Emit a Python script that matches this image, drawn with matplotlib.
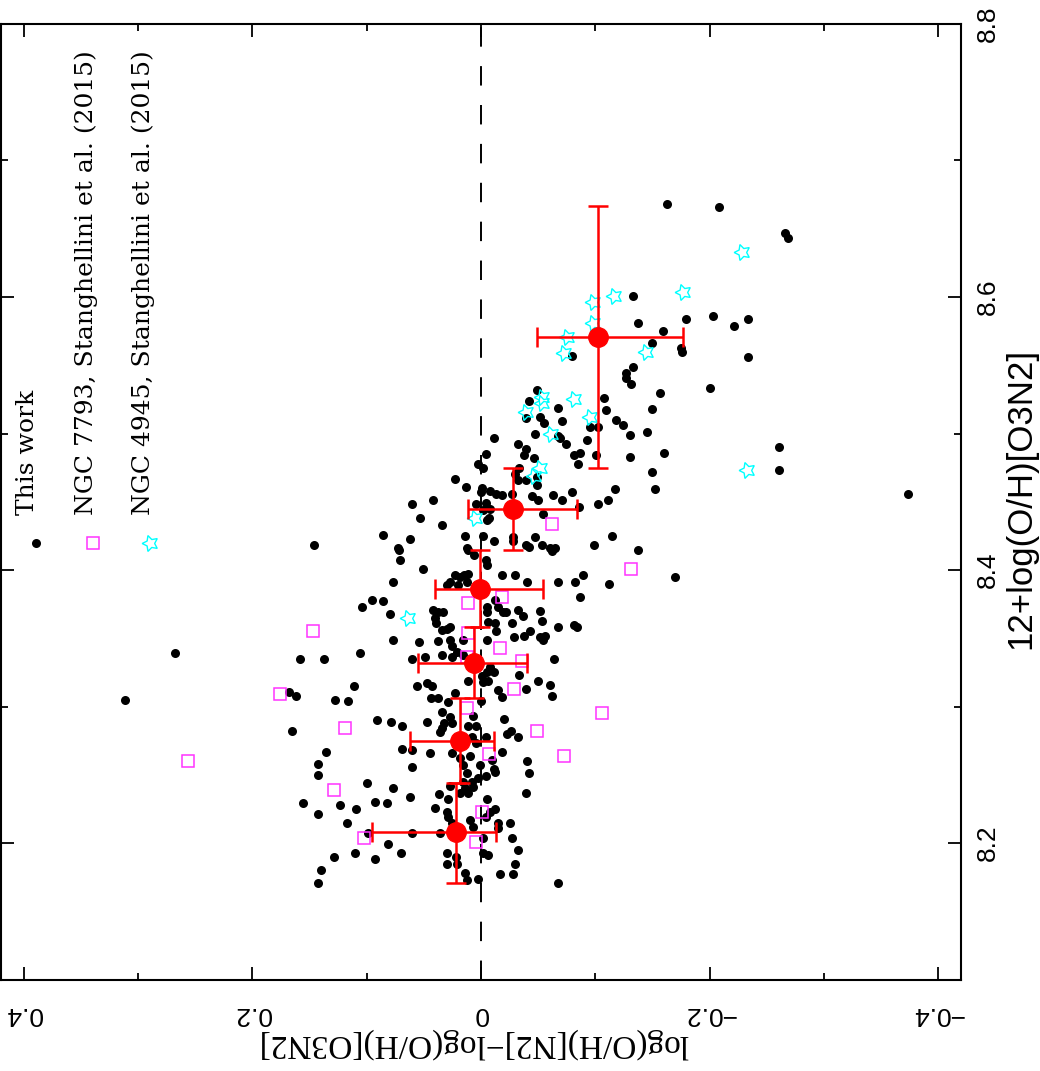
import matplotlib
matplotlib.use('Agg')
import matplotlib.pyplot as plt
import numpy as np

# This work: log(O/H)[N2]-log(O/H)[O3N2] vs 12+log(O/H)[O3N2]
dx_this = [-0.163, -0.208, -0.266, -0.269, -0.133, -0.137, -0.179, -0.203, -0.221, -0.234,
           -0.159, -0.150, -0.175, -0.176, -0.234, -0.080, -0.133, -0.127, -0.127, -0.131,
           -0.200, -0.157, -0.049,
           -0.042, -0.108, -0.067, -0.109, -0.150, -0.039, -0.052, -0.055, -0.071, -0.095,
           -0.102, -0.118, -0.124, -0.130, -0.145, -0.047, -0.067, -0.069, -0.011, -0.032,
           -0.074, -0.093, -0.261,
           -0.039, -0.038, -0.004, -0.081, -0.087, -0.085, -0.101, -0.130, -0.160, -0.046,
           0.003, -0.002, -0.033, -0.030, -0.032, -0.039, -0.049, 0.023, 0.013, -0.049,
           -0.150, -0.152, -0.117, -0.080, -0.063, -0.045, -0.050, -0.027, -0.008, -0.013,
           -0.018, 0.000, -0.001, -0.261, -0.374,
           -0.111, -0.102, -0.071, -0.004, 0.004, -0.008, -0.007, -0.005, 0.060, 0.042,
           0.053, 0.034, 0.086, 0.062, 0.073, 0.014, -0.002, -0.011, -0.028, -0.028,
           -0.047, -0.039, -0.042, -0.053, -0.060, -0.065, -0.054, -0.086, -0.099, -0.115,
           -0.137, 0.012, 0.011, 0.146, -0.002,
           -0.062, 0.072, 0.071, 0.006, -0.004, -0.005, 0.051, 0.077, 0.023, 0.018,
           0.015, 0.011, 0.027, 0.030, 0.020, 0.012, -0.018, -0.030, -0.040, -0.067,
           -0.089, -0.082, -0.112, -0.170, -0.087,
           0.095, 0.104, 0.086, 0.080, -0.012, -0.015, -0.019, -0.022, -0.005, -0.032,
           -0.037, -0.052, 0.042, 0.038, 0.033, 0.040, 0.039, 0.034, 0.030, 0.027,
           -0.005, -0.006, -0.012, -0.027, -0.053, -0.067, -0.081, -0.084, -0.013, -0.029,
           -0.038, -0.043, -0.052, -0.056, -0.054, 0.077, 0.054, 0.038, 0.027, 0.025,
           0.016, -0.005,
           0.021, 0.016, 0.060, 0.049, 0.034, 0.025, -0.008, -0.011, -0.005, -0.001,
           -0.002, -0.006, 0.011, -0.033, -0.050, -0.060, -0.062, -0.064, -0.015, -0.039,
           -0.018, 0.056, 0.047, 0.043, 0.044, 0.038, 0.023, 0.268, 0.158, 0.137,
           0.106, 0.111, 0.168, 0.162, 0.128, 0.116, 0.312,
           0.029, 0.000, 0.034, 0.027, 0.025, 0.032, 0.034, 0.036, 0.091, 0.079,
           0.069, 0.047, 0.011, 0.004, 0.007, -0.020, -0.023, -0.026, -0.032, 0.008,
           -0.004, 0.069, 0.060, 0.165, 0.004,
           0.045, 0.025, 0.010, -0.018, -0.010, -0.012, 0.018, 0.016, 0.001, -0.011,
           -0.040, -0.042, 0.060, 0.012, -0.004, 0.003, 0.008, 0.016, 0.018, 0.011,
           0.014, 0.027, 0.007, -0.039, 0.077, 0.062, 0.037, 0.029, -0.005, 0.136,
           0.143, 0.143, 0.100,
           0.093, 0.082, 0.040, 0.030, 0.029, 0.025, -0.008, -0.012, -0.004, 0.010,
           0.007, -0.015, -0.015, -0.025, -0.027, -0.002, 0.036, 0.060, 0.081, 0.156,
           0.123, 0.109, 0.143, 0.117, 0.099,
           0.070, 0.093, 0.030, 0.022, 0.021, 0.030, -0.002, -0.006, -0.032, -0.030,
           -0.017, -0.028, 0.014, 0.012, 0.003, -0.067, 0.129, 0.110, 0.140, 0.143]
oh_this = [8.668, 8.666, 8.647, 8.643, 8.601, 8.581, 8.584, 8.586, 8.579, 8.584,
           8.575, 8.566, 8.563, 8.560, 8.556, 8.557, 8.549, 8.544, 8.541, 8.536,
           8.533, 8.530, 8.532,
           8.524, 8.526, 8.519, 8.517, 8.518, 8.511, 8.512, 8.508, 8.509, 8.505,
           8.505, 8.510, 8.506, 8.499, 8.501, 8.500, 8.498, 8.497, 8.497, 8.492,
           8.492, 8.495, 8.490,
           8.489, 8.484, 8.485, 8.484, 8.486, 8.478, 8.484, 8.483, 8.486, 8.482,
           8.478, 8.475, 8.475, 8.470, 8.466, 8.466, 8.468, 8.467, 8.461, 8.462,
           8.472, 8.459, 8.459, 8.457, 8.455, 8.454, 8.451, 8.456, 8.458, 8.456,
           8.455, 8.457, 8.460, 8.473, 8.456,
           8.451, 8.448, 8.451, 8.449, 8.448, 8.445, 8.438, 8.437, 8.448, 8.451,
           8.438, 8.433, 8.426, 8.423, 8.416, 8.425, 8.425, 8.421, 8.424, 8.421,
           8.424, 8.418, 8.417, 8.418, 8.416, 8.416, 8.441, 8.446, 8.418, 8.425,
           8.415, 8.416, 8.415, 8.418, 8.444,
           8.414, 8.415, 8.407, 8.411, 8.407, 8.404, 8.401, 8.391, 8.396, 8.395,
           8.396, 8.397, 8.391, 8.389, 8.389, 8.391, 8.396, 8.396, 8.391, 8.391,
           8.396, 8.391, 8.390, 8.395, 8.380,
           8.378, 8.373, 8.377, 8.368, 8.378, 8.373, 8.369, 8.369, 8.373, 8.371,
           8.366, 8.370, 8.371, 8.369, 8.369, 8.365, 8.361, 8.356, 8.357, 8.358,
           8.369, 8.362, 8.361, 8.361, 8.363, 8.358, 8.360, 8.358, 8.355, 8.351,
           8.352, 8.355, 8.351, 8.352, 8.349, 8.349, 8.347, 8.348, 8.349, 8.344,
           8.349, 8.349,
           8.340, 8.338, 8.335, 8.336, 8.338, 8.336, 8.329, 8.325, 8.325, 8.322,
           8.318, 8.319, 8.319, 8.323, 8.319, 8.316, 8.308, 8.335, 8.312, 8.313,
           8.307, 8.315, 8.317, 8.315, 8.306, 8.306, 8.310, 8.339, 8.335, 8.335,
           8.339, 8.315, 8.311, 8.308, 8.305, 8.304, 8.305,
           8.303, 8.304, 8.296, 8.292, 8.288, 8.288, 8.284, 8.281, 8.290, 8.289,
           8.286, 8.289, 8.286, 8.286, 8.293, 8.291, 8.280, 8.282, 8.278, 8.278,
           8.278, 8.269, 8.268, 8.282, 8.273,
           8.266, 8.266, 8.264, 8.267, 8.261, 8.252, 8.262, 8.257, 8.257, 8.254,
           8.260, 8.251, 8.256, 8.251, 8.249, 8.248, 8.245, 8.245, 8.237, 8.237,
           8.240, 8.242, 8.241, 8.237, 8.240, 8.234, 8.236, 8.232, 8.232, 8.267,
           8.258, 8.250, 8.244,
           8.230, 8.229, 8.226, 8.223, 8.219, 8.215, 8.223, 8.225, 8.219, 8.217,
           8.212, 8.215, 8.211, 8.215, 8.204, 8.204, 8.207, 8.207, 8.199, 8.229,
           8.228, 8.225, 8.221, 8.215, 8.207,
           8.193, 8.188, 8.193, 8.190, 8.185, 8.185, 8.193, 8.191, 8.195, 8.185,
           8.177, 8.177, 8.178, 8.173, 8.174, 8.171, 8.190, 8.193, 8.180, 8.171]

# NGC 7793, Stanghellini et al. (2015)
dx_7793 = [0.256, 0.176, 0.147, 0.119, 0.129, 0.102, -0.062, -0.018, 0.011, 0.011,
           -0.017, -0.036, 0.012, -0.029, 0.012, -0.049, -0.073, -0.007, -0.001, 0.004,
           -0.131, -0.106]
oh_7793 = [8.260, 8.309, 8.355, 8.284, 8.239, 8.204, 8.434, 8.380, 8.376, 8.354,
           8.343, 8.333, 8.336, 8.313, 8.299, 8.282, 8.264, 8.265, 8.223, 8.201,
           8.401, 8.295]

# NGC 4945, Stanghellini et al. (2015)
dx_4945 = [-0.228, -0.177, -0.116, -0.098, -0.098, -0.075, -0.073, -0.144, -0.053, -0.053,
           -0.039, -0.081, -0.095, -0.061, -0.052, -0.046, -0.233, 0.005, 0.064]
oh_4945 = [8.633, 8.604, 8.601, 8.596, 8.581, 8.571, 8.559, 8.560, 8.527, 8.522,
           8.516, 8.525, 8.512, 8.500, 8.475, 8.469, 8.473, 8.438, 8.365]

# binned medians
bin_oh = [8.208, 8.275, 8.332, 8.386, 8.445, 8.571]
bin_oh_lo = [8.171, 8.244, 8.306, 8.358, 8.415, 8.475]
bin_oh_hi = [8.244, 8.306, 8.358, 8.415, 8.475, 8.667]
bin_dx = [0.022, 0.018, 0.006, 0.001, -0.028, -0.102]
bin_dx_lo = [-0.013, -0.011, -0.040, -0.054, -0.084, -0.177]
bin_dx_hi = [0.095, 0.062, 0.055, 0.040, 0.011, -0.049]

fig = plt.figure(figsize=(10.4, 10.71), dpi=100)
ax = fig.add_axes([0.00106, 0.0854, 0.9229, 0.8922])

ax.axvline(0, color='black', lw=1.4, ls=(0, (10, 10)), zorder=1)

ax.plot(dx_this, oh_this, 'o', color='black', ms=6.5, mew=0, zorder=2)
ax.plot(dx_7793, oh_7793, 's', mfc='none', mec='#ff33ff', ms=8, mew=1.1, zorder=3)
ax.plot(dx_4945, oh_4945, marker=(5, 1, 90), ls='none', mfc='none', mec='#00ffff',
        ms=12, mew=1.0, zorder=4)

bin_dx = np.array(bin_dx)
bin_oh = np.array(bin_oh)
xerr = [bin_dx - np.array(bin_dx_lo), np.array(bin_dx_hi) - bin_dx]
yerr = [bin_oh - np.array(bin_oh_lo), np.array(bin_oh_hi) - bin_oh]
ax.errorbar(bin_dx, bin_oh, xerr=xerr, yerr=yerr, fmt='o', color='red', ms=14,
            elinewidth=1.8, capsize=7, capthick=1.8, zorder=5)

ax.set_xlim(0.42, -0.42)
ax.set_ylim(8.1, 8.8)
ax.set_xticks([0.4, 0.2, 0, -0.2, -0.4])
ax.set_xticklabels(['0.4', '0.2', '0', '\u22120.2', '\u22120.4'])
ax.set_xticks(np.arange(-0.4, 0.41, 0.1), minor=True)
ax.set_yticks([8.2, 8.4, 8.6, 8.8])
ax.set_yticks(np.arange(8.1, 8.81, 0.1), minor=True)

for s in ax.spines.values():
    s.set_linewidth(1.5)
ax.tick_params(which='both', direction='in', top=True, bottom=True, left=True, right=True,
               labelleft=False, labelright=True, width=1.3)
ax.tick_params(which='major', length=9.5)
ax.tick_params(which='minor', length=5)
ax.tick_params(axis='x', pad=16)
ax.tick_params(axis='y', pad=11)

for lab in ax.get_xticklabels():
    lab.set_rotation(180)
    lab.set_fontsize(19)
    lab.set_family('Liberation Sans')
for lab in ax.get_yticklabels():
    lab.set_rotation(90)
    lab.set_va('center')
    lab.set_fontsize(19)
    lab.set_family('Liberation Sans')

fig.text(0.455, 0.026, 'log(O/H)[N2]\u2212log(O/H)[O3N2]', rotation=180, ha='center', va='center',
         fontsize=24, family='Liberation Serif')
fig.text(0.982, 0.535, '12+log(O/H)[O3N2]', rotation=90, ha='center', va='center',
         fontsize=25, family='Liberation Sans')

# legend drawn rotated like the rest of the figure
leg_x = [0.028, 0.089, 0.148]
leg_text = ['This work', 'NGC 7793, Stanghellini et al. (2015)',
            'NGC 4945, Stanghellini et al. (2015)']
for xx, t in zip(leg_x, leg_text):
    ax.text(xx, 0.486, t, transform=ax.transAxes, rotation=90, rotation_mode='anchor',
            ha='left', va='center', fontsize=18, family='DejaVu Serif')
ax.plot([0.0365], [0.457], 'o', color='black', ms=6.5, mew=0, transform=ax.transAxes, clip_on=False)
ax.plot([0.096], [0.457], 's', mfc='none', mec='#ff33ff', ms=8, mew=1.1, transform=ax.transAxes, clip_on=False)
ax.plot([0.155], [0.457], marker=(5, 1, 90), ls='none', mfc='none', mec='#00ffff', ms=12, mew=1.0,
        transform=ax.transAxes, clip_on=False)

fig.savefig('out.png', dpi=100)
